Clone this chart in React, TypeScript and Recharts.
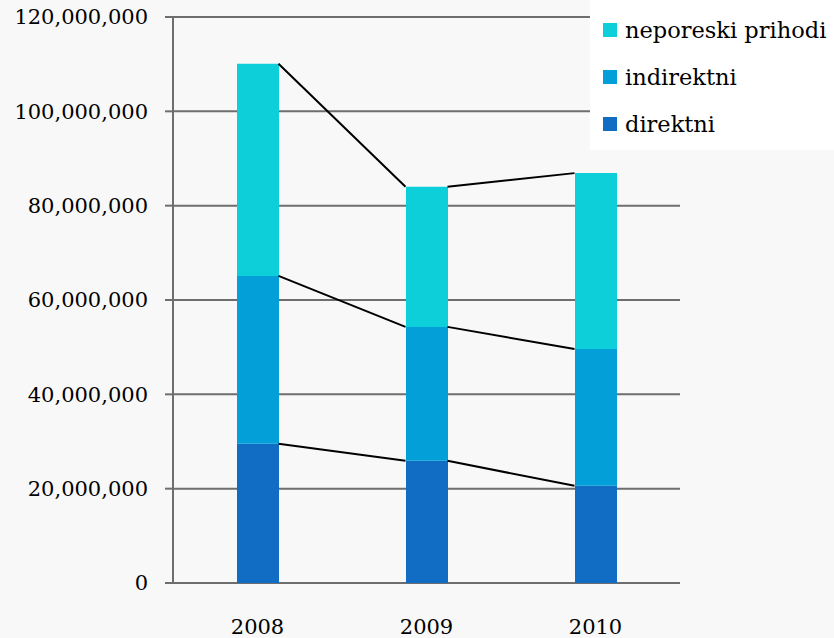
import React from 'react';
import { ComposedChart, Bar, Line, XAxis, YAxis, CartesianGrid } from 'recharts';

const years = ['2008', '2009', '2010'];
const direktni = [29500000, 25900000, 20600000];
const indirektni = [35600000, 28400000, 29000000];
const neporeski = [45000000, 29700000, 37300000];
const yTicks = [0, 20000000, 40000000, 60000000, 80000000, 100000000, 120000000];

const series = [
  { key: 'neporeski', name: 'neporeski prihodi', color: '#0dcfd9' },
  { key: 'indirektni', name: 'indirektni', color: '#029fd9' },
  { key: 'direktni', name: 'direktni', color: '#116dc3' },
];

const data = years.map((year, i) => ({
  year,
  direktni: direktni[i],
  indirektni: indirektni[i],
  neporeski: neporeski[i],
  top1: direktni[i],
  top2: direktni[i] + indirektni[i],
  top3: direktni[i] + indirektni[i] + neporeski[i],
}));

const BAR_SIZE = 42;
const FONT = '"DejaVu Serif", serif';

// Excel style series lines: from the right edge of one bar to the left edge of the next
const seriesLineCurve = (context: any) => {
  let pts: number[][] = [];
  return {
    areaStart() {},
    areaEnd() {},
    lineStart() {
      pts = [];
    },
    lineEnd() {
      for (let i = 0; i < pts.length - 1; i++) {
        context.moveTo(pts[i][0] + BAR_SIZE / 2, pts[i][1]);
        context.lineTo(pts[i + 1][0] - BAR_SIZE / 2, pts[i + 1][1]);
      }
    },
    point(x: number, y: number) {
      pts.push([x, y]);
    },
  };
};

const fmt = (v: number) => v.toLocaleString('en-US');

const App = () => {
  return (
    <div style={{ position: 'absolute', left: 0, top: 0, width: 834, height: 638, background: '#f8f8f8' }}>
      <ComposedChart width={834} height={638} data={data} margin={{ top: 17, right: 154, bottom: 0, left: 0 }}>
        <CartesianGrid vertical={false} stroke="#6e6e6e" strokeWidth={2} />
        <XAxis
          dataKey="year"
          height={55}
          axisLine={false}
          tickLine={false}
          tickSize={0}
          tickMargin={36}
          tick={{ fill: '#000', fontSize: 21, fontFamily: FONT }}
        />
        <YAxis
          width={173}
          domain={[0, 120000000]}
          ticks={yTicks}
          tickFormatter={fmt}
          axisLine={{ stroke: '#6e6e6e', strokeWidth: 2 }}
          tickLine={{ stroke: '#6e6e6e', strokeWidth: 2 }}
          tickSize={8}
          tickMargin={17}
          tick={{ fill: '#000', fontSize: 21, fontFamily: FONT }}
        />
        <Bar dataKey="direktni" stackId="a" fill="#116dc3" barSize={BAR_SIZE} isAnimationActive={false} />
        <Bar dataKey="indirektni" stackId="a" fill="#029fd9" barSize={BAR_SIZE} isAnimationActive={false} />
        <Bar dataKey="neporeski" stackId="a" fill="#0dcfd9" barSize={BAR_SIZE} isAnimationActive={false} />
        {['top1', 'top2', 'top3'].map((k) => (
          <Line
            key={k}
            dataKey={k}
            type={seriesLineCurve as any}
            stroke="#000"
            strokeWidth={2}
            dot={false}
            activeDot={false}
            legendType="none"
            isAnimationActive={false}
          />
        ))}
      </ComposedChart>
      <div
        style={{
          position: 'absolute',
          left: 590,
          top: 0,
          width: 244,
          height: 150,
          background: '#fff',
          fontFamily: FONT,
          fontSize: 22.5,
          color: '#000',
        }}
      >
        {series.map((s, i) => (
          <div
            key={s.key}
            style={{ position: 'absolute', left: 13, top: 30 + i * 47 - 16, height: 32, display: 'flex', alignItems: 'center' }}
          >
            <span style={{ display: 'inline-block', width: 14, height: 14, background: s.color, marginRight: 8 }} />
            <span>{s.name}</span>
          </div>
        ))}
      </div>
    </div>
  );
};

export default App;
